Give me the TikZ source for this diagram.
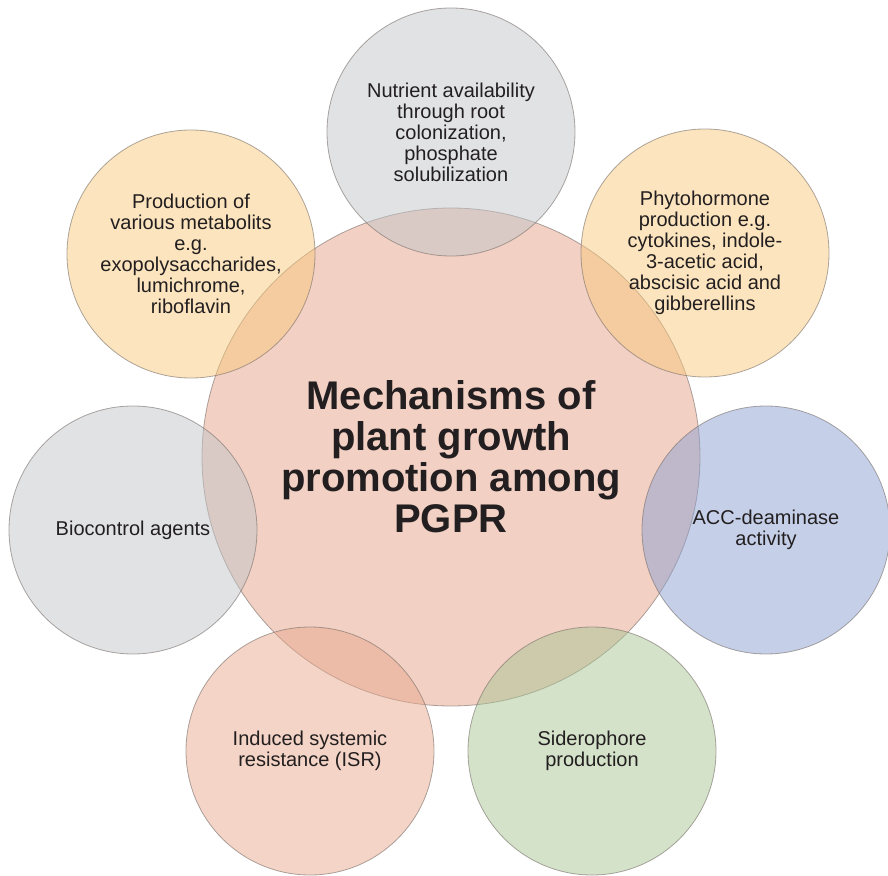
\documentclass[tikz,border=0pt]{standalone}
\usepackage{fontspec}
\setmainfont{Liberation Sans}
\usepackage[svgnames]{xcolor}
\usepackage{tikz}

\definecolor{hubpink}{RGB}{229,161,137}
\definecolor{petalgold}{RGB}{247,201,125}
\definecolor{petalgrey}{RGB}{193,197,201}
\definecolor{petalblue}{RGB}{139,161,209}
\definecolor{petalrose}{RGB}{231,169,141}
\definecolor{petalgreen}{RGB}{167,197,147}
\definecolor{rimgrey}{RGB}{120,110,105}
\definecolor{inkgrey}{RGB}{35,31,32}

\tikzset{
	bubble/.style={circle,draw=rimgrey,draw opacity=0.6,line width=0.8pt,
		fill opacity=0.5,text opacity=1,inner sep=0pt,align=center,text=inkgrey},
	petal/.style={bubble,minimum size=248pt,font=\fontsize{20}{21}\selectfont},
	hub/.style={bubble,minimum size=498pt,font=\fontsize{40}{41}\selectfont\bfseries}
}

\begin{document}
\begin{tikzpicture}
		\useasboundingbox (-451pt,-418pt) rectangle (437pt,457pt);
		% centre circle
		\node[hub,fill=hubpink] (pgpr) at (0,0) {Mechanisms of\\plant growth\\promotion among\\PGPR};
		% the seven mechanisms around it
		\node[petal,fill=petalgrey] (nutrient) at (0pt,325pt) {Nutrient availability\\through root\\colonization,\\phosphate\\solubilization};
		\node[petal,fill=petalgold] (phyto) at (254pt,204pt) {Phytohormone\\production e.g.\\cytokines, indole-\\3-acetic acid,\\abscisic acid and\\gibberellins};
		\node[petal,fill=petalblue] (acc) at (315pt,-73pt) {ACC-deaminase\\activity};
		\node[petal,fill=petalgreen] (sidero) at (141pt,-294pt) {Siderophore\\production};
		\node[petal,fill=petalrose] (isr) at (-141pt,-294pt) {Induced systemic\\resistance (ISR)};
		\node[petal,fill=petalgrey] (bioctrl) at (-318pt,-73pt) {Biocontrol agents};
		\node[petal,fill=petalgold] (metab) at (-260pt,203pt) {Production of\\various metabolits\\e.g.\\exopolysaccharides,\\lumichrome,\\riboflavin};
	\end{tikzpicture}
\end{document}
